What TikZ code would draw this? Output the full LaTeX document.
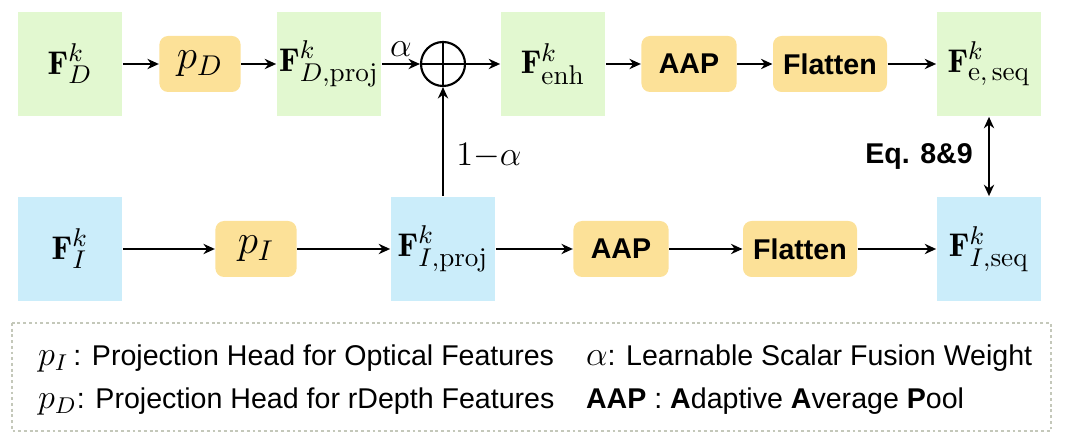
\documentclass[tikz,border=0pt]{standalone}
\usepackage{fontspec}
\setsansfont{Liberation Sans}
\usetikzlibrary{positioning, arrows.meta, calc}
\DeclareMathSizes{11}{11.5}{9.5}{7}
\definecolor{DepthColor}{RGB}{226,248,208}
\definecolor{OpticColor}{RGB}{203,237,250}
\definecolor{HeadColor}{RGB}{252,225,152}
\definecolor{LegendColor}{RGB}{196,200,186}

\begin{document}
\begin{tikzpicture}[
    x=0.35pt, y=-0.35pt,
    every node/.style={font=\fontsize{10}{12}\selectfont},
    >={Stealth[length=4pt, width=3.6pt]},
    depthmap/.style={fill=DepthColor, minimum width=36.6pt, minimum height=36.6pt, inner sep=0pt, font=\fontsize{11}{13}\selectfont},
    opticmap/.style={fill=OpticColor, minimum width=36.6pt, minimum height=36.6pt, inner sep=0pt, font=\fontsize{11}{13}\selectfont},
    headbox/.style={fill=HeadColor, rounded corners=3pt, minimum height=19.6pt, minimum width=28.4pt, inner sep=0pt, font=\fontsize{14}{16}\selectfont},
    opbox/.style={fill=HeadColor, rounded corners=3pt, minimum height=19.6pt, inner sep=0pt, font=\fontsize{10}{12}\selectfont\sffamily\bfseries},
    flow/.style={->, line width=0.7pt},
    legendframe/.style={draw=LegendColor, line width=0.5pt, dash pattern=on 1pt off 1pt},
    legtext/.style={anchor=west, font=\fontsize{10}{12}\selectfont\sffamily},
]

\useasboundingbox (0,0) rectangle (1068,444);

% Depth branch (top row)
\node[depthmap] (FD) at (70,64) {$\mathbf{F}^{k}_{D}$};
\node[headbox] (pD) at (200,64) {$p_D$};
\node[depthmap] (FDproj) at (329,64) {$\mathbf{F}^{k}_{D,\mathrm{proj}}$};
\node[circle, draw, line width=0.75pt, minimum size=15.4pt, inner sep=0pt] (fuse) at (443,64) {};
\draw[line width=0.75pt] (fuse.north) -- (fuse.south) (fuse.west) -- (fuse.east);
\node[depthmap] (Fenh) at (553,64) {$\mathbf{F}^{k}_{\mathrm{enh}}$};
\node[opbox, minimum width=33.3pt] (AAPD) at (689,64) {AAP};
\node[opbox, minimum width=39.9pt] (FlatD) at (830,64) {Flatten};
\node[depthmap] (FDseq) at (989,64) {$\mathbf{F}^{k}_{\mathrm{e,\,seq}}$};

% Optical branch (bottom row)
\node[opticmap] (FI) at (70,249) {$\mathbf{F}^{k}_{I}$};
\node[headbox] (pI) at (256,249) {$p_I$};
\node[opticmap] (FIproj) at (443,249) {$\mathbf{F}^{k}_{I,\mathrm{proj}}$};
\node[opbox, minimum width=33.3pt] (AAPI) at (621,249) {AAP};
\node[opbox, minimum width=39.9pt] (FlatI) at (800,249) {Flatten};
\node[opticmap] (FIseq) at (989,249) {$\mathbf{F}^{k}_{I,\mathrm{seq}}$};

% Arrows
\draw[flow] (FD) -- (pD);
\draw[flow] (pD) -- (FDproj);
\draw[flow] (FDproj) -- node[above=-1pt, font=\fontsize{12}{14}\selectfont] (alab) {$\alpha$} (fuse);
\draw[flow] (fuse) -- (Fenh);
\draw[flow] (Fenh) -- (AAPD);
\draw[flow] (AAPD) -- (FlatD);
\draw[flow] (FlatD) -- (FDseq);
\draw[flow] (FI) -- (pI);
\draw[flow] (pI) -- (FIproj);
\draw[flow] (FIproj) -- (AAPI);
\draw[flow] (AAPI) -- (FlatI);
\draw[flow] (FlatI) -- (FIseq);
\draw[flow] (FIproj) -- node[pos=0.37, right=1pt, font=\fontsize{12}{14}\selectfont] (blab) {$1{-}\alpha$} (fuse);
\draw[flow, <->] (FDseq) -- node[left=2pt, font=\fontsize{10}{12}\selectfont\sffamily\bfseries] (eqlab) {Eq. 8\&9} (FIseq);

% Legend
\draw[legendframe] (12,323) rectangle (1051,431);
\node[legtext] (legpI) at (28,358) {{\fontsize{12}{14}\selectfont$p_I$}\,: Projection Head for Optical Features};
\node[legtext] (legpD) at (28,401) {{\fontsize{12}{14}\selectfont$p_D$}: Projection Head for rDepth Features};
\node[legtext] (legal) at (576,358) {{\fontsize{12}{14}\selectfont$\alpha$}: Learnable Scalar Fusion Weight};
\node[legtext] (legaap) at (576,401) {\textbf{AAP} : \textbf{A}daptive \textbf{A}verage \textbf{P}ool};

\end{tikzpicture}
\end{document}
